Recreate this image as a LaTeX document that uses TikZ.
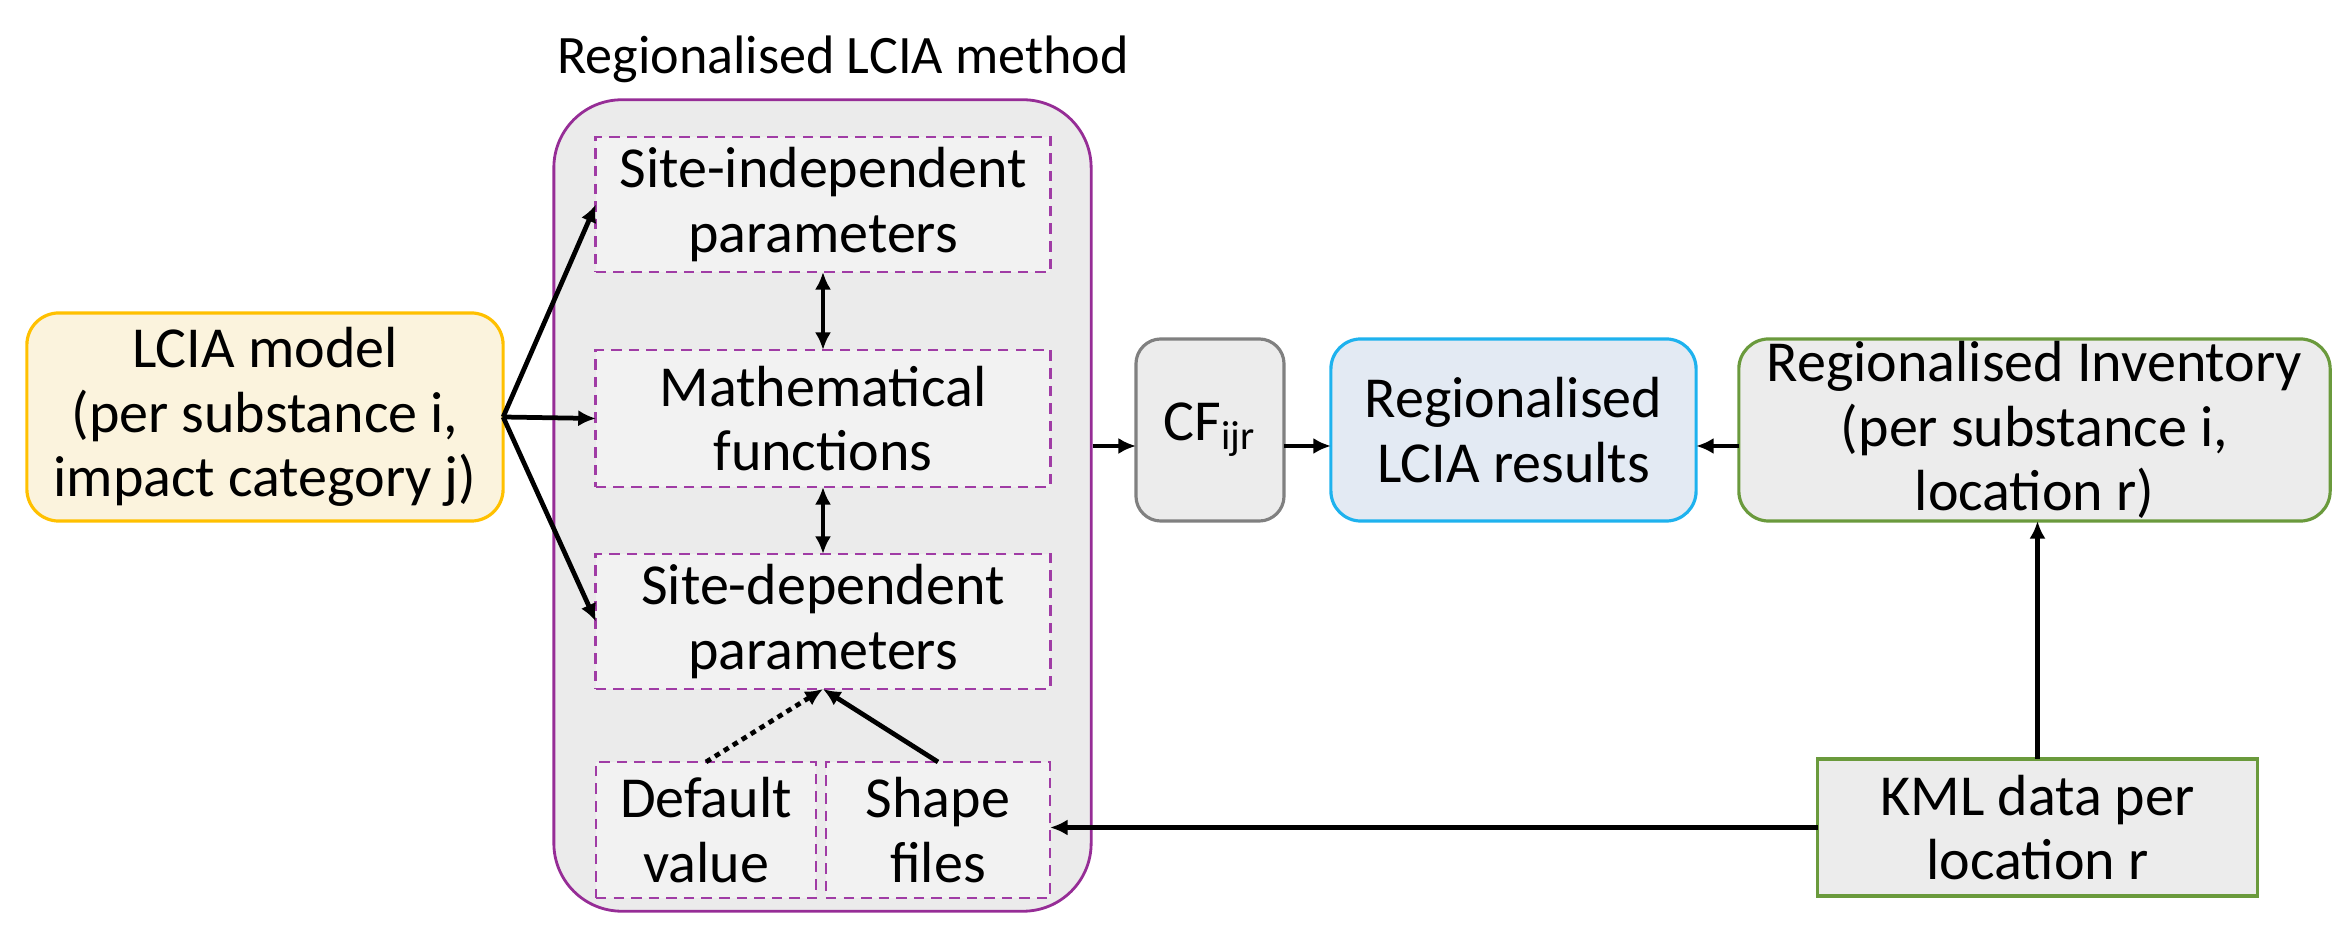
\documentclass[tikz,border=0pt]{standalone}
\usepackage{fontspec}
\setmainfont{Carlito}
\usetikzlibrary{arrows.meta}
\definecolor{purpleline}{RGB}{150,45,150}
\definecolor{purpledash}{RGB}{160,60,165}
\definecolor{outerfill}{RGB}{235,235,235}
\definecolor{innerfill}{RGB}{242,242,242}
\definecolor{yellowfill}{RGB}{251,243,221}
\definecolor{yellowline}{RGB}{255,192,0}
\definecolor{grayline}{RGB}{128,128,128}
\definecolor{bluefill}{RGB}{227,234,243}
\definecolor{blueline}{RGB}{30,178,238}
\definecolor{greenline}{RGB}{106,154,60}
\definecolor{boxfill}{RGB}{236,236,236}
\tikzset{
  txt/.style={font=\fontsize{16.5pt}{18.3pt}\selectfont, align=center, inner sep=0pt, outer sep=0pt},
  innerbox/.style={txt, draw=purpledash, fill=innerfill, line width=0.8pt, dash pattern=on 3pt off 2pt},
  roundbox/.style={txt, line width=0.9pt},
  conn/.style={line width=1.35pt, -{Latex[length=5pt,width=4.6pt]}},
  dconn/.style={line width=1.35pt, {Latex[length=5pt,width=4.6pt]}-{Latex[length=5pt,width=4.6pt]}},
}
\begin{document}
\begin{tikzpicture}[x=0.01cm,y=-0.01cm]
\useasboundingbox (0,0) rectangle (2335,934);
% title
\node[txt, font=\fontsize{15.4pt}{18pt}\selectfont] (title) at (843,59) {Regionalised LCIA method};
% outer box
\node[draw=purpleline, fill=outerfill, line width=0.8pt, rounded corners=0.68cm,
  minimum width=5.37cm, minimum height=8.11cm, inner sep=0pt] (outer) at (822.5,505.5) {};
% inner boxes
\node[innerbox, minimum width=4.54cm, minimum height=1.35cm] (sitein) at (823,204.5) {Site-independent\\parameters};
\node[innerbox, minimum width=4.54cm, minimum height=1.37cm] (math) at (823,418.5) {Mathematical\\functions};
\node[innerbox, minimum width=4.54cm, minimum height=1.35cm] (sitedep) at (823,621.5) {Site-dependent\\parameters};
\node[innerbox, minimum width=2.20cm, minimum height=1.36cm] (default) at (706,830) {Default\\value};
\node[innerbox, minimum width=2.24cm, minimum height=1.36cm] (shape) at (938,830) {Shape\\files};
% left model
\node[roundbox, draw=yellowline, fill=yellowfill, rounded corners=0.32cm,
  minimum width=4.76cm, minimum height=2.08cm] (lcia) at (265,417) {LCIA model\\(per substance i,\\impact category j)};
% right chain
\node[roundbox, draw=grayline, fill=boxfill, rounded corners=0.25cm,
  minimum width=1.48cm, minimum height=1.82cm] (cf) at (1210,430) {CF\textsubscript{ijr}};
\node[roundbox, draw=blueline, fill=bluefill, rounded corners=0.3cm,
  minimum width=3.65cm, minimum height=1.82cm] (res) at (1513.5,430) {Regionalised\\LCIA results};
\node[roundbox, draw=greenline, fill=boxfill, rounded corners=0.3cm,
  minimum width=5.91cm, minimum height=1.82cm] (inv) at (2034.5,430) {Regionalised Inventory\\(per substance i,\\location r)};
\node[txt, draw=greenline, fill=boxfill, line width=0.9pt,
  minimum width=4.39cm, minimum height=1.37cm] (kml) at (2037.5,827.5) {KML data per\\location r};
% connectors
\coordinate (ay) at (0,446);
\draw[conn] (lcia.east) -- (sitein.west);
\draw[conn] (lcia.east) -- (math.west);
\draw[conn] (lcia.east) -- (sitedep.west);
\draw[dconn] (sitein.south) -- (math.north);
\draw[dconn] (math.south) -- (sitedep.north);
\draw[conn, dash pattern=on 1.6pt off 1.4pt] (default.north) -- (sitedep.south);
\draw[conn] (shape.north) -- (sitedep.south);
\draw[conn] (outer.east |- ay) -- (cf.west |- ay);
\draw[conn] (cf.east |- ay) -- (res.west |- ay);
\draw[conn] (inv.west |- ay) -- (res.east |- ay);
\draw[conn] (kml.north) -- (kml.north |- inv.south);
\draw[conn] (kml.west) -- (shape.east |- kml.west);
\end{tikzpicture}
\end{document}
